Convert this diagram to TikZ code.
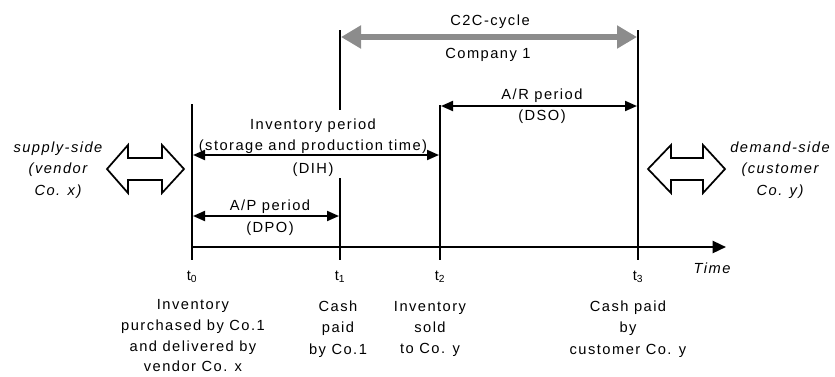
\documentclass[tikz,border=0pt]{standalone}
\usepackage{fontspec}
\setmainfont{Liberation Sans}[LetterSpace=10]
\usetikzlibrary{arrows.meta}

\begin{document}
\begin{tikzpicture}[x=0.75pt, y=-0.75pt,
    txt/.style={font=\fontsize{11}{16}\selectfont, align=center, inner sep=0pt},
    sidetxt/.style={txt, font=\fontsize{11}{16}\selectfont\itshape},
    tline/.style={black, line width=2pt},
    timeaxis/.style={black, line width=1.8pt, -{Triangle[length=10pt,width=9pt]}},
    period/.style={black, line width=1.5pt, {Triangle[length=9pt,width=7.5pt]}-{Triangle[length=9pt,width=7.5pt]}},
    c2carrow/.style={black!45, line width=5pt, {Triangle[length=15pt,width=16.5pt]}-{Triangle[length=15pt,width=16.5pt]}},
    hollow/.style={draw=black, line width=1.3pt, fill=white, line join=miter}]
    \useasboundingbox (0,0) rectangle (835,376);
    \coordinate (t0top) at (192,104);
    \coordinate (t0bot) at (192,260);
    \coordinate (t1top) at (340,30);
    \coordinate (t1gapa) at (340,110);
    \coordinate (t1gapb) at (340,178);
    \coordinate (t1bot) at (340,260);
    \coordinate (t2top) at (440,105);
    \coordinate (t2bot) at (440,260);
    \coordinate (t3top) at (638,30);
    \coordinate (t3bot) at (638,260);
    \coordinate (origin) at (192,247);
    \coordinate (timeend) at (726,247);
    \coordinate (c2cL) at (341,37);
    \coordinate (c2cR) at (637,37);
    \coordinate (arL) at (441,106);
    \coordinate (arR) at (637,106);
    \coordinate (invL) at (193,155);
    \coordinate (invR) at (439,155);
    \coordinate (apL) at (193,216);
    \coordinate (apR) at (339,216);
    \draw[tline] (t0top) -- (t0bot);
    \draw[tline] (t1top) -- (t1gapa);
    \draw[tline] (t1gapb) -- (t1bot);
    \draw[tline] (t2top) -- (t2bot);
    \draw[tline] (t3top) -- (t3bot);
    \draw[timeaxis] (origin) -- (timeend);
    \draw[c2carrow] (c2cL) -- (c2cR);
    \draw[period] (arL) -- (arR);
    \draw[period] (invL) -- (invR);
    \draw[period] (apL) -- (apR);
    \node[txt] (c2clbl) at (490,22) {C2C-cycle};
    \node[txt] (co1) at (488,55) {Company 1};
    \node[txt] (arlbl) at (542,96) {A/R period};
    \node[txt] (dso) at (542,117) {(DSO)};
    \node[txt] (invlbl) at (313,136.5) {Inventory period\\(storage and production time)};
    \node[txt] (dih) at (313,170) {(DIH)};
    \node[txt] (aplbl) at (270,207) {A/P period};
    \node[txt] (dpo) at (270,229) {(DPO)};
    \node[txt] (lt0) at (192,277) {t\textsubscript{0}};
    \node[txt] (lt1) at (340,277) {t\textsubscript{1}};
    \node[txt] (lt2) at (440,277) {t\textsubscript{2}};
    \node[txt] (lt3) at (638,277) {t\textsubscript{3}};
    \node[sidetxt] (time) at (712,268) {Time};
    \node[txt, font=\fontsize{11}{15.5}\selectfont] (ev0) at (193,336) {Inventory\\purchased by Co.1\\and delivered by\\vendor Co. x};
    \node[txt] (ev1) at (338,329) {Cash\\paid\\by Co.1};
    \node[txt] (ev2) at (430,329) {Inventory\\sold\\to Co. y};
    \node[txt] (ev3) at (628,329) {Cash paid\\by\\customer Co. y};
    \node[sidetxt] (supply) at (58,170) {supply-side\\(vendor\\Co. x)};
    \node[sidetxt] (demand) at (780,170) {demand-side\\(customer\\Co. y)};
    \draw[hollow] (107,169) -- (128,145) -- (128,158) -- (162,158) -- (162,145) -- (184,169) -- (162,193) -- (162,180) -- (128,180) -- (128,193) -- cycle;
    \draw[hollow] (648,169) -- (671,145) -- (671,158) -- (703,158) -- (703,145) -- (725,169) -- (703,193) -- (703,180) -- (671,180) -- (671,193) -- cycle;
\end{tikzpicture}
\end{document}
